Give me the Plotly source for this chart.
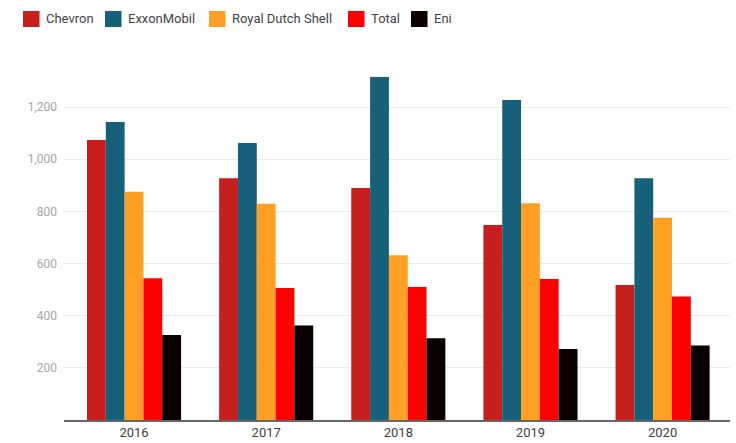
import plotly.graph_objects as go

years = ["2016", "2017", "2018", "2019", "2020"]
companies = ["Chevron", "ExxonMobil", "Royal Dutch Shell", "Total", "Eni"]
chevron = [1074, 927, 890, 748, 518]
exxon = [1143, 1062, 1316, 1227, 927]
shell = [875, 829, 632, 831, 776]
total = [544, 506, 510, 541, 474]
eni = [326, 362, 314, 272, 286]
series = [chevron, exxon, shell, total, eni]
colors = ["#C71E1E", "#16607A", "#FFA024", "#FF0000", "#0A0000"]
ytick_vals = [200, 400, 600, 800, 1000, 1200]

W, H = 736, 443
ML, MR, MT, MB = 64, 6, 55, 23
PW = W - ML - MR
PH = H - MT - MB

fig = go.Figure()
for name, vals, col in zip(companies, series, colors):
    fig.add_trace(go.Bar(x=years, y=vals, name=name, marker=dict(color=col, line=dict(width=0)),
                         showlegend=False))

# manual legend (swatch left positions in px)
leg_px = [23, 105, 209, 348, 411]
def px2x(px):
    return (px - ML) / PW
def py2y(py):
    return (H - MB - py) / PH
for name, col, lx in zip(companies, colors, leg_px):
    fig.add_shape(type="rect", xref="paper", yref="paper",
                  x0=px2x(lx), x1=px2x(lx + 16.5), y0=py2y(27), y1=py2y(11),
                  fillcolor=col, line=dict(width=0))
    fig.add_annotation(xref="paper", yref="paper", x=px2x(lx + 21), y=py2y(19),
                       text=name, showarrow=False, xanchor="left", yanchor="middle",
                       font=dict(family="Roboto", size=13, color="#444444"))

fig.update_layout(
    width=W, height=H,
    margin=dict(l=ML, r=MR, t=MT, b=MB, pad=0, autoexpand=False),
    paper_bgcolor="white", plot_bgcolor="white",
    barmode="group", bargap=0.288, bargroupgap=0,
    font=dict(family="Roboto"),
    xaxis=dict(range=[-0.53, 4.51], showgrid=False, showline=True, linecolor="#666666",
               linewidth=1.5, ticks="", tickfont=dict(size=13, color="#404040"),
               ticklabelstandoff=0, automargin=False, fixedrange=True),
    yaxis=dict(range=[0, 1400], tickvals=ytick_vals, tickformat=",", showgrid=True,
               gridcolor="#EBEBEB", gridwidth=1, zeroline=False, ticks="",
               tickfont=dict(size=12, color="#A6A6A6"), ticklabelstandoff=6,
               automargin=False),
)
fig.write_html("out.html")
